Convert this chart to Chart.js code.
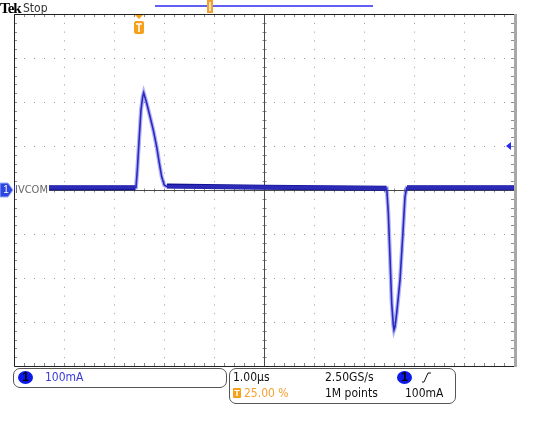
<!DOCTYPE html>
<html>
<head>
<meta charset="utf-8">
<script src="https://cdn.jsdelivr.net/npm/chart.js@4.4.0/dist/chart.umd.min.js"></script>
<style>
  body { margin: 0; background: #fff; }
  #wrap { position: relative; width: 533px; height: 421px; overflow: hidden;
          font-family: "Liberation Sans Narrow", "DejaVu Sans Condensed", sans-serif; }
  #scope { position: absolute; left: 0; top: 0; }
  .t { position: absolute; white-space: nowrap; font-size: 12px; line-height: 14px; color: #111; }
  .box { position: absolute; border: 1px solid #555; border-radius: 7px; background: #fff; }
  .ch { position: absolute; width: 15px; height: 13px; border-radius: 50%; background: #0b1ae8;
        color: #000; font: bold 12px/13px "Liberation Sans", sans-serif; text-align: center; }
</style>
</head>
<body>
<div id="wrap">
  <canvas id="scope" width="533" height="421"></canvas>

  <div class="t" style="left:0;top:0;font:bold 15px/16px 'Liberation Serif',serif;color:#000;letter-spacing:-1px">Tek</div>
  <div class="t" style="left:23px;top:1px;color:#333">Stop</div>
  <div class="t" style="left:15px;top:183px;font-size:11px;color:#666;background:#fff;padding-right:1px">IVCOM</div>

  <div class="box" style="left:13px;top:368px;width:212px;height:18px"></div>
  <div class="ch" style="left:18px;top:371px">1</div>
  <div class="t" style="left:45px;top:370px;color:#3a3ad8">100mA</div>

  <div class="box" style="left:229px;top:368px;width:225px;height:34px"></div>
  <div class="t" style="left:233px;top:370px">1.00µs</div>
  <div class="t" style="left:325px;top:370px">2.50GS/s</div>
  <div class="ch" style="left:397px;top:371px">1</div>
  <svg style="position:absolute;left:420px;top:370px" width="12" height="14">
    <polyline points="2,12 4,12 8,3 11,3" fill="none" stroke="#111" stroke-width="1"/>
  </svg>
  <div style="position:absolute;left:233px;top:388px;width:8px;height:10px;background:#f7a01c;border-radius:1px;color:#fff;font:bold 9px/10px 'Liberation Sans',sans-serif;text-align:center">T</div>
  <div class="t" style="left:244px;top:386px;color:#f7a030">25.00 %</div>
  <div class="t" style="left:325px;top:386px">1M points</div>
  <div class="t" style="left:405px;top:386px">100mA</div>
</div>

<script>
// trace (time in µs, current in mA, 1 µs/div, 100 mA/div)
const timeUs = [-2.5, -0.06, -0.034, 0.006, 0.04, 0.074, 0.094, 0.154, 0.22, 0.286, 0.354,
                0.406, 0.454, 0.506, 0.554, 4.954, 4.986, 5.02, 5.054, 5.086, 5.1, 5.12,
                5.154, 5.22, 5.274, 5.32, 5.354, 7.5];
const currentMa = [5, 6, 45, 121, 182, 212, 221, 197, 167, 136, 98,
                   61, 30, 11, 8, 4, -52, -152, -257, -307, -318, -311,
                   -280, -205, -106, -15, 5, 5];

// noisy baseline stretches (drawn as a thick band)
const baseTimeUs = [-2.5, -0.07, 0.25, 0.56, 2.5, 4.95, 5.15, 5.36, 7.5];
const baseMa = [5, 5, null, 9, 6, 4, null, 5, 5];

// graticule: 10 x 8 divisions
const xGridUs = [-2.5, -1.5, -0.5, 0.5, 1.5, 2.5, 3.5, 4.5, 5.5, 6.5, 7.5];
const yGridMa = [-400, -300, -200, -100, 0, 100, 200, 300, 400];
const triggerTimeUs = 0;
const triggerLevelMa = 100;

const pts = (xs, ys) => xs.map((x, i) => ({ x, y: ys[i] }));

const graticule = {
  id: 'graticule',
  beforeDatasetsDraw(chart) {
    const { ctx, chartArea: a, scales: { x, y } } = chart;
    const cx = Math.round(x.getPixelForValue(2.5)) + 0.5;
    const cy = Math.round(y.getPixelForValue(0)) + 0.5;
    const dx = (a.right - a.left) / 50, dy = (a.bottom - a.top) / 40;
    ctx.save();
    ctx.lineWidth = 1;
    // minor ticks on center lines and edges
    ctx.strokeStyle = '#8a8a8a';
    ctx.beginPath();
    for (let i = 1; i < 50; i++) {
      const px = Math.round(a.left + i * dx) + 0.5;
      ctx.moveTo(px, cy - 2); ctx.lineTo(px, cy + 2);
      ctx.moveTo(px, a.top); ctx.lineTo(px, a.top + 3);
      ctx.moveTo(px, a.bottom - 3); ctx.lineTo(px, a.bottom);
    }
    for (let j = 1; j < 40; j++) {
      const py = Math.round(a.top + j * dy) + 0.5;
      ctx.moveTo(cx - 2, py); ctx.lineTo(cx + 2, py);
      ctx.moveTo(a.left, py); ctx.lineTo(a.left + 3, py);
      ctx.moveTo(a.right - 3, py); ctx.lineTo(a.right, py);
    }
    ctx.stroke();
    // center cross
    ctx.strokeStyle = '#4a4a4a';
    ctx.beginPath();
    ctx.moveTo(a.left, cy); ctx.lineTo(a.right, cy);
    ctx.moveTo(cx, a.top); ctx.lineTo(cx, a.bottom);
    ctx.stroke();
    // frame
    ctx.strokeStyle = '#222';
    ctx.beginPath();
    ctx.moveTo(a.right, a.top + 0.5); ctx.lineTo(a.left + 0.5, a.top + 0.5);
    ctx.lineTo(a.left + 0.5, a.bottom + 0.5); ctx.lineTo(a.right, a.bottom + 0.5);
    ctx.stroke();
    ctx.fillStyle = '#a8a8a8';
    ctx.fillRect(a.right, a.top, 3, a.bottom - a.top + 1);
    ctx.restore();
  },
  afterDraw(chart) {
    const { ctx, chartArea: a, scales: { x, y } } = chart;
    const tx = Math.round(x.getPixelForValue(triggerTimeUs));
    const ly = Math.round(y.getPixelForValue(triggerLevelMa));
    const gy = Math.round(y.getPixelForValue(0));
    ctx.save();
    // record bar on top
    ctx.strokeStyle = '#2a2af0'; ctx.lineWidth = 1.5;
    ctx.beginPath(); ctx.moveTo(155, 6); ctx.lineTo(373, 6); ctx.stroke();
    ctx.fillStyle = '#f0a030';
    ctx.fillRect(207, 0, 6, 13);
    ctx.fillStyle = '#fde0b0';
    ctx.fillRect(209, 2, 2, 9);
    // trigger position marker
    ctx.fillStyle = '#f7a01c';
    ctx.beginPath(); ctx.moveTo(tx - 4, a.top + 1); ctx.lineTo(tx + 4, a.top + 1); ctx.lineTo(tx, a.top + 5); ctx.fill();
    ctx.beginPath(); ctx.roundRect(tx - 5, a.top + 7, 10, 13, 2); ctx.fill();
    ctx.strokeStyle = '#fff'; ctx.lineWidth = 1.5;
    ctx.beginPath();
    ctx.moveTo(tx - 3, a.top + 10); ctx.lineTo(tx + 3, a.top + 10);
    ctx.moveTo(tx, a.top + 10); ctx.lineTo(tx, a.top + 18);
    ctx.stroke();
    // trigger level arrow
    ctx.fillStyle = '#2a2af0';
    ctx.beginPath(); ctx.moveTo(a.right - 8, ly); ctx.lineTo(a.right - 3, ly - 4); ctx.lineTo(a.right - 3, ly + 4); ctx.fill();
    // channel 1 ground marker
    ctx.fillStyle = '#2d46e0'; ctx.strokeStyle = '#9fb0ff'; ctx.lineWidth = 1;
    ctx.beginPath();
    ctx.moveTo(0, gy - 7); ctx.lineTo(8, gy - 7); ctx.lineTo(13, gy); ctx.lineTo(8, gy + 7); ctx.lineTo(0, gy + 7);
    ctx.closePath(); ctx.fill(); ctx.stroke();
    ctx.restore();
  }
};

new Chart(document.getElementById('scope'), {
  type: 'line',
  data: {
    datasets: [
      { data: pts(timeUs, currentMa), borderColor: 'rgba(80,80,230,0.45)', borderWidth: 4, pointRadius: 0, tension: 0 },
      { data: pts(baseTimeUs, baseMa), borderColor: '#0c0c8e', borderWidth: 5, pointRadius: 0, spanGaps: false, tension: 0 },
      { data: pts(timeUs, currentMa), borderColor: '#0a0aa0', borderWidth: 1.6, pointRadius: 0, tension: 0 }
    ]
  },
  options: {
    responsive: false,
    devicePixelRatio: 1,
    animation: false,
    parsing: false,
    layout: { padding: { left: 14, top: 14, right: 19, bottom: 55 } },
    plugins: { legend: { display: false }, tooltip: { enabled: false } },
    scales: {
      x: {
        type: 'linear', min: -2.5, max: 7.5,
        afterBuildTicks: s => { s.ticks = xGridUs.map(v => ({ value: v })); },
        ticks: { display: false },
        grid: { color: '#9a9a9a', lineWidth: 1, drawTicks: false },
        border: { display: false, dash: [1, 7.8] }
      },
      y: {
        type: 'linear', min: -400, max: 400,
        afterBuildTicks: s => { s.ticks = yGridMa.map(v => ({ value: v })); },
        ticks: { display: false },
        grid: { color: '#9a9a9a', lineWidth: 1, drawTicks: false },
        border: { display: false, dash: [1, 9] }
      }
    }
  },
  plugins: [graticule]
});
</script>
<div class="t" style="position:absolute;left:2px;top:183px;width:8px;text-align:center;color:#fff;font:10px/14px 'Liberation Sans',sans-serif">1</div>
</body>
</html>
